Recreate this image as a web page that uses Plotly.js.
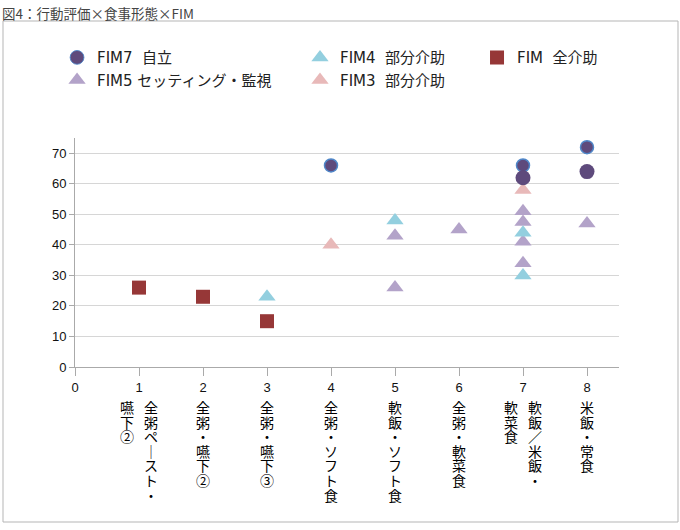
<!DOCTYPE html>
<html>
<head>
<meta charset="utf-8">
<script src="https://cdn.plot.ly/plotly-3.0.1.min.js"></script>
<style>html,body{margin:0;padding:0;background:#fff;}#chart{width:680px;height:530px;}</style>
</head>
<body>
<div id="chart"></div>
<script>
// ---- data ----
const chartTitle = "図4：行動評価×食事形態×FIM";
const xTickVals = [0, 1, 2, 3, 4, 5, 6, 7, 8];
const yTickVals = [0, 10, 20, 30, 40, 50, 60, 70];
const catPositions = [1, 2, 3, 4, 5, 6, 7, 8];
// each label: columns of vertical text, right column first
const catLabels = [
  ["全粥ペースト・", "嚥下②"],
  ["全粥・嚥下②"],
  ["全粥・嚥下③"],
  ["全粥・ソフト食"],
  ["軟飯・ソフト食"],
  ["全粥・軟菜食"],
  ["軟飯／米飯・", "軟菜食"],
  ["米飯・常食"]
];

const fim7Name = "FIM7\u00a0 自立";
const fim7X = [4, 7, 7, 8, 8];
const fim7Y = [66, 66, 62, 72, 64];
const fim7Outlined = [true, true, false, true, false];

const fim5Name = "FIM5 セッティング・監視";
const fim5X = [5, 5, 6, 7, 7, 7, 7, 8];
const fim5Y = [43, 26, 45, 51, 47.5, 41, 34, 47];

const fim4Name = "FIM4\u00a0 部分介助";
const fim4X = [3, 5, 7, 7];
const fim4Y = [23, 48, 44, 30];

const fim3Name = "FIM3\u00a0 部分介助";
const fim3X = [4, 7];
const fim3Y = [40, 58];

const fimFullName = "FIM\u00a0 全介助";
const fimFullX = [1, 2, 3];
const fimFullY = [26, 23, 15];

// ---- styles ----
const cjk = '"Noto Sans CJK JP", "Noto Sans", sans-serif';
const legendFamily = '"DejaVu Sans", "Noto Sans CJK JP", sans-serif';
const C_PURPLE_D = '#5e4a7c';
const C_BLUE_LINE = '#4f87c9';
const C_PURPLE_L = '#b3a3c9';
const C_BLUE_L = '#93cfdf';
const C_PINK = '#e8b9b9';
const C_RED = '#963737';

const traces = [
  {
    type: 'scatter', mode: 'markers', name: fimFullName, x: fimFullX, y: fimFullY,
    legend: 'legend3', legendrank: 1,
    marker: {symbol: 'square', size: 14, color: C_RED, opacity: 1}
  },
  {
    type: 'scatter', mode: 'markers', name: fim5Name, x: fim5X, y: fim5Y,
    legend: 'legend', legendrank: 2,
    marker: {symbol: 'triangle-up', size: 15, color: C_PURPLE_L, opacity: 1}
  },
  {
    type: 'scatter', mode: 'markers', name: fim4Name, x: fim4X, y: fim4Y,
    legend: 'legend2', legendrank: 1,
    marker: {symbol: 'triangle-up', size: 15, color: C_BLUE_L, opacity: 1}
  },
  {
    type: 'scatter', mode: 'markers', name: fim3Name, x: fim3X, y: fim3Y,
    legend: 'legend2', legendrank: 2,
    marker: {symbol: 'triangle-up', size: 15, color: C_PINK, opacity: 1}
  },
  {
    type: 'scatter', mode: 'markers', name: fim7Name, x: fim7X, y: fim7Y,
    legend: 'legend', legendrank: 1,
    marker: {
      symbol: 'circle', color: C_PURPLE_D, opacity: 1,
      size: fim7Outlined.map(o => o ? 13 : 15),
      line: {color: fim7Outlined.map(o => o ? C_BLUE_LINE : C_PURPLE_D),
             width: fim7Outlined.map(o => o ? 1.5 : 0)}
    }
  }
];

// vertical category labels
const annotations = [];
const charStep = 14.6;
catLabels.forEach((cols, i) => {
  const n = cols.length;
  cols.forEach((col, j) => {
    const xs = n === 1 ? 0 : (j === 0 ? 12 : -12);
    Array.from(col).forEach((ch, k) => {
      const shown = ch === 'ー' ? '｜' : ch;
      annotations.push({
        xref: 'x', yref: 'paper', x: catPositions[i], y: 0,
        xshift: xs, yshift: -(40 + k * charStep),
        xanchor: 'center', yanchor: 'middle', showarrow: false,
        text: shown,
        font: {family: cjk, size: 14, color: '#000', weight: 'normal'}
      });
    });
  });
});

const legendFont = {family: legendFamily, size: 15, color: '#222'};
const legendBase = {
  orientation: 'v', font: legendFont, bgcolor: 'rgba(0,0,0,0)',
  xanchor: 'left', yanchor: 'top', traceorder: 'normal', tracegroupgap: 0,
  itemclick: false
};

const layout = {
  width: 680, height: 530,
  paper_bgcolor: '#fff', plot_bgcolor: '#fff',
  margin: {l: 75, r: 61, t: 138, b: 163, pad: 0},
  title: {
    text: chartTitle, x: 0.003, xref: 'container', xanchor: 'left',
    y: 0.982, yref: 'container', yanchor: 'top',
    font: {family: cjk, size: 13.5, color: '#444'}
  },
  showlegend: true,
  legend: Object.assign({}, legendBase, {x: -0.033, y: 1.423}),
  legend2: Object.assign({}, legendBase, {x: 0.4136, y: 1.423}),
  legend3: Object.assign({}, legendBase, {x: 0.739, y: 1.423}),
  xaxis: {
    range: [0, 8.5], tickmode: 'array', tickvals: xTickVals, ticktext: xTickVals.map(String),
    ticks: 'outside', ticklen: 8, tickcolor: '#aaa', tickwidth: 1,
    showline: true, linecolor: '#aaa', linewidth: 1,
    showgrid: false, zeroline: false,
    tickfont: {family: '"Liberation Sans", Arial, sans-serif', size: 13, color: '#111'},
    fixedrange: true
  },
  yaxis: {
    range: [0, 75], tickmode: 'array', tickvals: yTickVals, ticktext: yTickVals.map(String),
    ticks: 'outside', ticklen: 5, tickcolor: '#aaa', tickwidth: 1,
    showline: true, linecolor: '#aaa', linewidth: 1,
    showgrid: true, gridcolor: '#d6d6d6', gridwidth: 1, zeroline: false,
    tickfont: {family: '"Liberation Sans", Arial, sans-serif', size: 13, color: '#111'},
    fixedrange: true
  },
  shapes: [{
    type: 'rect', xref: 'paper', yref: 'paper', layer: 'below',
    x0: (3 - 75) / 544, x1: (678 - 75) / 544,
    y0: (367 - 522) / 229, y1: (367 - 21) / 229,
    line: {color: '#b5b5b5', width: 1}, fillcolor: 'rgba(0,0,0,0)'
  }],
  annotations: annotations
};

Plotly.newPlot('chart', traces, layout, {displayModeBar: false, staticPlot: true});
</script>
</body>
</html>
